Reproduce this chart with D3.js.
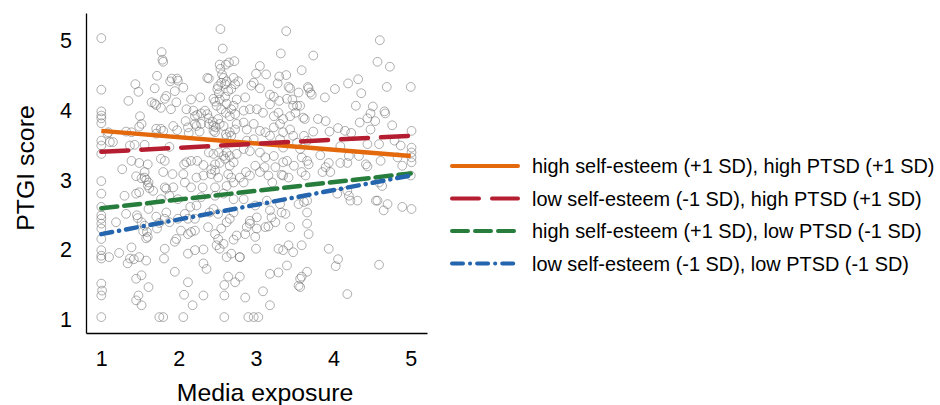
<!DOCTYPE html>
<html>
<head>
<meta charset="utf-8">
<script src="https://cdn.jsdelivr.net/npm/d3@7"></script>
<style>
  body { margin: 0; background: #fff; }
  svg { display: block; font-family: "Liberation Sans", Arial, sans-serif; }
</style>
</head>
<body>
<div id="chart"></div>
<script>
// Simple slopes plot: PTGI score against media exposure, four moderation lines

// tick values on both axes
const xTicks = [1, 2, 3, 4, 5];
const yTicks = [1, 2, 3, 4, 5];

const scatterPoints = [
  [1.00,5.02],[2.54,5.15],[2.57,4.87],[1.78,4.82],[1.79,4.71],[1.80,4.68],[2.72,4.69],[2.65,4.67],[2.61,4.64],[2.54,4.58],
  [2.56,4.50],[1.72,4.48],[1.91,4.44],[1.98,4.44],[1.89,4.40],[1.99,4.41],[2.37,4.45],[2.39,4.44],[2.06,4.31],[1.95,4.26],
  [1.44,4.36],[1.48,4.25],[1.00,4.28],[1.69,4.30],[1.35,4.12],[1.82,4.15],[1.69,4.08],[1.77,4.02],[1.97,4.10],[2.16,4.14],
  [2.28,4.17],[2.45,4.15],[2.47,4.11],[2.53,4.14],[2.60,4.18],[2.62,4.08],[2.71,4.05],[2.75,4.14],[2.58,4.45],[2.62,4.40],
  [2.60,4.36],[2.71,4.45],[2.73,4.36],[2.68,4.29],[2.64,4.26],[2.50,4.29],[2.52,4.23],[1.00,3.97],[1.00,3.91],[1.00,3.87],
  [1.50,3.90],[1.52,3.79],[1.49,3.75],[2.10,4.00],[2.21,3.90],[2.24,3.92],[2.29,3.94],[2.34,3.98],[2.37,3.93],[2.39,3.87],
  [2.44,3.82],[2.51,3.86],[2.55,4.00],[2.61,3.95],[2.66,3.90],[2.73,3.93],[2.09,3.83],[2.23,3.76],[2.39,3.79],[2.48,3.74],
  [2.45,3.69],[1.71,3.72],[1.77,3.72],[1.80,3.69],[1.98,3.70],[2.13,3.66],[2.27,3.68],[1.09,3.67],[1.32,3.68],[1.39,3.67],
  [1.00,3.55],[1.00,3.48],[1.11,3.53],[1.15,3.53],[1.43,3.49],[1.37,3.48],[1.88,3.46],[2.58,3.76],[2.61,3.64],[2.62,3.60],
  [2.66,3.67],[2.73,3.71],[1.00,3.36],[2.39,3.38],[2.45,3.36],[2.52,3.38],[2.58,3.33],[2.62,3.38],[2.66,3.33],[2.71,3.24],
  [2.75,3.36],[2.47,3.21],[2.53,3.23],[2.66,3.19],[2.60,3.29],[1.39,3.26],[1.49,3.23],[1.60,3.21],[2.07,3.21],[2.10,3.24],
  [2.16,3.26],[2.24,3.26],[2.32,3.20],[2.42,3.14],
  [1.08,3.65],[1.56,3.49],[1.71,3.65],[1.65,4.10],[1.71,4.06],[1.00,3.80],[1.27,3.14],[1.45,3.04],[1.56,3.10],[1.52,3.01],
  [1.58,2.99],[1.60,2.91],[1.62,2.87],[1.47,2.44],[1.54,2.25],[1.58,2.15],[1.71,2.46],
  [1.84,4.19],[1.90,4.00],[2.19,3.98],[2.49,4.05],[2.68,4.00],[2.77,4.40],[2.53,4.64],[2.51,4.33],[2.55,4.38],[2.75,3.79],
  [2.68,3.62],[2.47,3.67],[2.29,3.79],[2.21,3.79],[2.12,3.74],[1.93,3.76],[2.53,3.79],[2.45,3.76],
  [1.77,3.29],[1.82,3.26],[2.32,3.05],[2.47,3.12],[2.51,3.02],[2.64,3.07],[2.68,3.02],[1.82,2.88],[1.93,2.88],[2.16,2.88],
  [2.62,2.90],[1.99,2.71],[1.77,2.71],[2.47,2.76],[2.71,2.71],[2.29,2.74],[1.82,2.43],[2.08,2.50],[2.40,2.52],[2.03,2.26],
  [2.38,2.31],[2.55,2.29],
  [3.39,5.12],[4.60,4.99],[3.32,4.80],[3.74,4.77],[4.57,4.68],[4.73,4.61],[3.05,4.62],[3.00,4.51],[3.13,4.50],[2.97,4.38],
  [2.94,4.34],[3.05,4.30],[3.30,4.47],[3.39,4.49],[3.28,4.37],[3.42,4.32],[3.44,4.30],[3.55,4.24],[3.59,4.56],[3.67,4.32],
  [3.68,4.30],[3.70,4.24],[3.72,4.21],[3.89,4.17],[4.02,4.29],[4.19,4.37],[4.32,4.43],[4.36,4.23],[4.69,4.32],[5.00,4.32],
  [2.86,4.17],[2.84,3.98],[2.92,4.00],[3.23,4.18],[3.30,4.12],[3.18,4.07],[3.40,4.15],[3.48,4.05],[3.53,4.05],[3.57,4.05],
  [3.47,4.14],[3.18,4.21],[3.01,4.00],[3.09,3.95],[3.23,3.90],[3.29,3.95],[3.35,3.86],[3.44,3.90],[3.51,3.95],[3.61,3.88],
  [3.63,3.86],[4.29,4.05],[4.51,4.04],[4.48,3.94],[4.66,3.97],[4.67,3.94],[4.44,3.87],[4.54,3.83],[4.76,3.77],[4.34,3.81],
  [3.80,3.86],[3.90,3.83],[3.74,3.68],[4.06,3.73],[3.95,3.68],[4.15,3.69],[4.23,3.66],[4.48,3.71],[2.84,3.81],[2.88,3.71],
  [2.97,3.79],[3.05,3.69],[3.12,3.67],[3.23,3.74],[3.31,3.79],[3.35,3.67],[3.44,3.71],[3.48,3.62],[3.31,3.57],[3.18,3.62],
  [2.97,3.57],[2.88,3.55],[3.62,3.62],[3.53,3.52],[3.66,3.55],[5.01,3.69],[5.01,3.45],[5.01,3.38],[5.01,3.31],[5.01,3.24],
  [3.83,3.34],[4.09,3.47],[4.44,3.50],[4.59,3.50],[4.79,3.55],[4.87,3.48],[4.20,3.33],[4.33,3.33],[2.84,3.43],[2.92,3.40],
  [3.05,3.38],[3.12,3.31],[3.23,3.33],[3.35,3.45],[3.35,3.24],[3.40,3.26],[3.57,3.43],[3.59,3.31],[3.66,3.26],[3.68,3.21],
  [3.49,3.19],[3.94,3.23],[4.09,3.23],[4.18,3.23],[4.42,3.21],[4.44,3.18],[4.61,3.26],[4.83,3.31],[4.89,3.19],[2.87,3.10],
  [2.99,3.19],[3.11,3.17],[3.90,3.17],[3.42,3.02],[3.16,3.05],[3.25,3.17],
  [1.00,2.97],[1.00,2.79],[1.00,2.60],[1.00,2.48],[1.00,2.43],[1.00,2.36],[1.00,2.29],[1.00,2.14],[1.00,1.98],[1.00,1.90],
  [1.00,1.86],[1.10,1.88],[1.23,1.94],[1.00,1.50],[1.01,1.40],[1.00,1.33],[1.00,1.02],[1.19,2.38],[1.30,2.76],[1.45,2.79],
  [1.49,2.81],[1.46,2.48],[1.52,2.38],[1.59,2.24],[1.60,2.17],[1.56,2.33],[1.39,2.02],[1.37,1.86],[1.34,1.79],[1.42,1.85],
  [1.49,1.88],[1.58,1.83],[1.45,1.57],[1.52,1.62],[1.61,1.45],[1.48,1.33],[1.45,1.26],[1.52,1.19],[1.75,1.02],[1.80,1.02],
  [2.06,1.02],[2.59,1.02],[2.18,1.19],[2.07,1.34],[1.95,1.67],[1.82,2.00],[1.81,1.86],[2.12,1.52],[2.32,1.33],[2.32,1.79],
  [2.36,1.71],[1.72,2.29],[1.75,2.37],[1.88,2.38],[1.99,2.43],[1.97,2.14],[1.95,2.10],[2.12,2.21],[2.16,2.24],[2.21,2.26],
  [2.12,1.93],[2.21,1.98],[2.32,1.99],[1.32,2.50],[1.61,2.57],[1.84,2.52],[1.88,2.76],[1.84,2.86],[1.67,2.83],[1.56,3.02],
  [1.61,2.95],[1.80,3.10],[1.92,3.07],[2.08,2.95],[2.06,3.07],[2.23,3.02],[2.42,3.07],[2.47,2.88],[2.31,2.88],[2.15,2.60],
  [2.23,2.62],[2.21,2.43],[2.12,2.43],[2.45,2.57],[2.51,2.50],[2.47,2.21],[2.51,2.14],[2.49,2.05],[2.53,2.00],[2.58,2.07],
  [2.62,2.38],[2.66,2.43],[2.71,2.52],[2.71,2.13],[2.62,1.88],[2.68,1.93],[2.79,1.88],[2.75,2.19],[2.64,1.60],[2.59,1.48],
  [2.73,1.52],[2.59,1.33],[2.58,2.79],[2.71,2.95],[2.79,3.02],
  [2.84,2.95],[2.92,3.05],[3.05,3.10],[3.21,2.95],[3.33,3.06],[3.35,3.05],[3.59,3.10],[3.64,3.05],[3.86,3.10],[3.96,3.10],
  [2.84,2.71],[2.99,2.62],[2.92,2.36],[2.99,2.17],[2.86,2.21],[3.14,2.69],[3.18,2.55],[3.20,2.45],[3.25,2.38],[3.12,2.31],
  [3.16,2.32],[3.31,2.64],[3.33,2.52],[3.38,2.50],[3.44,2.31],[3.55,2.64],[3.62,2.67],[3.66,2.69],[3.66,2.52],[3.68,2.21],
  [3.66,2.36],[4.05,2.79],[4.20,2.76],[4.22,2.69],[4.31,2.69],[4.18,2.83],[4.55,2.69],[4.57,2.69],[4.65,2.55],[4.70,2.64],
  [4.89,2.60],[5.01,2.57],[4.63,2.90],[4.59,2.95],[5.00,3.05],[2.79,1.88],[3.00,2.00],[3.29,2.00],[3.35,1.98],[3.42,2.05],
  [3.48,1.95],[3.59,2.05],[3.94,2.00],[4.06,1.85],[4.03,1.75],[4.59,1.77],[3.40,1.76],[3.18,1.64],[3.29,1.66],[3.66,1.67],
  [3.57,1.57],[3.59,1.60],[3.55,1.47],[3.57,1.45],[2.79,1.60],[2.86,1.30],[3.09,1.39],[3.18,1.19],[4.18,1.35],[2.90,1.02],
  [2.97,1.02],[3.03,1.02],[2.88,2.31],[3.01,2.29],[3.01,2.45],[2.92,2.40]
];

// simple slopes: one line per moderator combination, from x = 1 to x = 5
const groupLabels = [
  "high self-esteem (+1 SD), high PTSD (+1 SD)",
  "low self-esteem (-1 SD), high PTSD (+1 SD)",
  "high self-esteem (+1 SD), low PTSD (-1 SD)",
  "low self-esteem (-1 SD), low PTSD (-1 SD)"
];
const lineX = [1, 5];
const lineStartY = [3.69, 3.39, 2.58, 2.21];
const lineEndY = [3.33, 3.62, 3.08, 3.05];

// styling for the four lines (kept apart from the data)
const lineColors = ["#e4680c", "#b51d30", "#267d3c", "#2465ad"];
const lineDashes = [null, "27,13", "16,7", "11,7,0.1,7"];

const width = 940;
const height = 405;

const svg = d3.select("#chart")
  .append("svg")
  .attr("width", width)
  .attr("height", height);

const x = d3.scaleLinear().domain([0.802, 5.21]).range([86, 427]);
const y = d3.scaleLinear().domain([0.792, 5.38]).range([333, 13]);

// scatter of raw cases
svg.append("g")
  .selectAll("circle")
  .data(scatterPoints)
  .join("circle")
  .attr("cx", d => x(d[0]))
  .attr("cy", d => y(d[1]))
  .attr("r", 4.4)
  .attr("fill", "none")
  .attr("stroke", "#6e6e6e")
  .attr("stroke-opacity", 0.55)
  .attr("stroke-width", 1);

// slope lines drawn on top of the points
const lines = groupLabels.map((label, i) => ({
  label,
  values: [[lineX[0], lineStartY[i]], [lineX[1], lineEndY[i]]],
  color: lineColors[i],
  dash: lineDashes[i]
}));

const lineGen = d3.line().x(d => x(d[0])).y(d => y(d[1]));

svg.append("g")
  .selectAll("path")
  .data(lines)
  .join("path")
  .attr("d", d => lineGen(d.values))
  .attr("fill", "none")
  .attr("stroke", d => d.color)
  .attr("stroke-width", 4.5)
  .attr("stroke-linecap", d => d.dash ? "round" : "butt")
  .attr("stroke-dasharray", d => d.dash);

// axes: just the two spines and the numbers, no tick marks
const xAxis = svg.append("g")
  .attr("transform", "translate(0,333)")
  .call(d3.axisBottom(x).tickValues(xTicks).tickSize(0).tickSizeOuter(0).tickPadding(18).tickFormat(d3.format("d")));

const yAxis = svg.append("g")
  .attr("transform", "translate(86,0)")
  .call(d3.axisLeft(y).tickValues(yTicks).tickSize(0).tickSizeOuter(0).tickPadding(14).tickFormat(d3.format("d")));

[xAxis, yAxis].forEach(ax => {
  ax.select(".domain").attr("stroke", "#000").attr("stroke-width", 1.3);
  ax.selectAll("text")
    .attr("font-family", "'Liberation Sans', Arial, sans-serif")
    .attr("font-size", 21.5)
    .attr("fill", "#000");
});
yAxis.selectAll("text").attr("dy", "0.38em");

// axis titles
svg.append("text")
  .attr("x", 265)
  .attr("y", 401)
  .attr("text-anchor", "middle")
  .attr("font-size", 24.8)
  .text("Media exposure");

svg.append("text")
  .attr("transform", "translate(34,168) rotate(-90)")
  .attr("text-anchor", "middle")
  .attr("font-size", 24.8)
  .text("PTGI score");

// legend on the right
const legend = svg.append("g")
  .selectAll("g")
  .data(lines)
  .join("g")
  .attr("transform", (d, i) => `translate(450, ${166 + i * 32.5})`);

legend.append("line")
  .attr("x1", 2)
  .attr("x2", 68)
  .attr("stroke", d => d.color)
  .attr("stroke-width", 4)
  .attr("stroke-linecap", "round")
  .attr("stroke-dasharray", d => d.dash);

legend.append("text")
  .attr("x", 82)
  .attr("y", 0)
  .attr("dy", "0.36em")
  .attr("font-size", 19.9)
  .text(d => d.label);
</script>
</body>
</html>
